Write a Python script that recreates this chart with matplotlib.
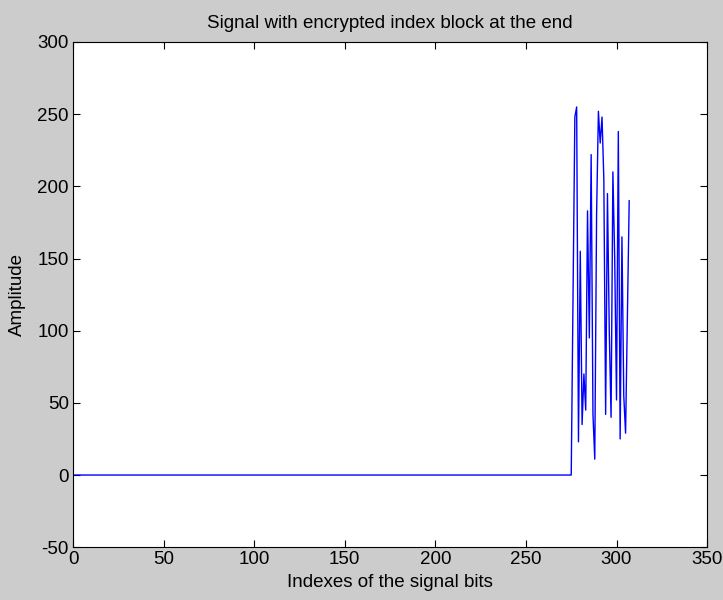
import numpy as np
import matplotlib.pyplot as plt

# signal: zeros then encrypted index block at the end
nZeros = 275
blockVals = [124, 248, 255, 23, 155, 35, 70, 45, 183, 95, 222, 42, 11, 180, 252, 230,
             248, 205, 42, 195, 100, 40, 210, 150, 52, 238, 25, 165, 55, 29, 111, 190]
signal = np.array([0]*nZeros + blockVals)
idx = np.arange(1, len(signal)+1)

xTicks = np.arange(0, 351, 50)
yTicks = np.arange(-50, 301, 50)

plt.rcParams['font.family'] = ['Liberation Sans', 'DejaVu Sans']
plt.rcParams['axes.unicode_minus'] = False

fig = plt.figure(figsize=(7.23, 6.0), dpi=100, facecolor='#cccccc')
ax = fig.add_axes([0.101, 0.088, 0.877, 0.842])
ax.plot(idx, signal, color='blue', linewidth=1.0)
ax.set_xlim(0, 350)
ax.set_ylim(-50, 300)
ax.set_xticks(xTicks)
ax.set_yticks(yTicks)
ax.tick_params(direction='in', top=True, right=True, labelsize=13.5, length=5, width=0.8, pad=3)
for s in ax.spines.values():
    s.set_linewidth(0.8)
ax.set_title('Signal with encrypted index block at the end', fontsize=13.5, pad=10)
ax.set_xlabel('Indexes of the signal bits', fontsize=13.5, labelpad=4)
ax.set_ylabel('Amplitude', fontsize=13.5, labelpad=8)
plt.savefig('out.png', dpi=100, facecolor=fig.get_facecolor())
